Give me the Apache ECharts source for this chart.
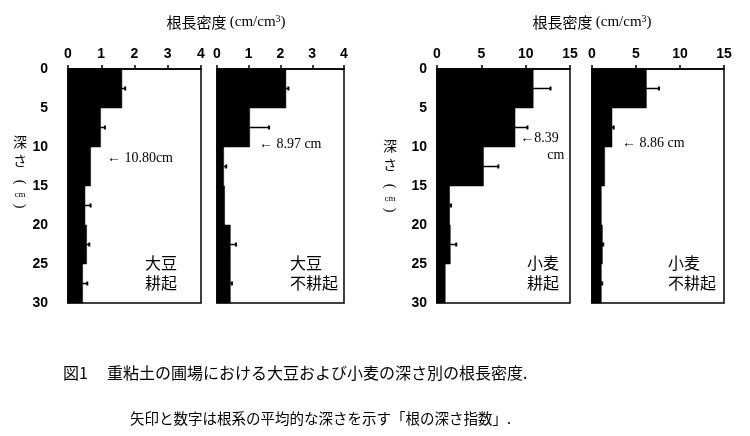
<!DOCTYPE html>
<html lang="ja">
<head>
    <meta charset="UTF-8">
    <title>根長密度</title>
    <script src="https://cdn.jsdelivr.net/npm/echarts@6/dist/echarts.min.js"></script>
</head>
<body style="margin:0;background:#fff;">
    <div id="img" style="height: 436px; width: 750px;"></div>
    <script type="text/javascript">
      // 深さ（cm）: 各層の上端、層の厚さは5cm
      var depthTop = [0, 5, 10, 15, 20, 25];
      var layerThick = 5;
      var depthTicks = [0, 30, 5];          // min, max, interval

      // 根長密度 (cm/cm3) の平均値と誤差（SD）
      var soyTillMean = [1.62, 0.98, 0.68, 0.51, 0.56, 0.44];
      var soyTillErr = [0.10, 0.13, 0, 0.17, 0.08, 0.14];
      var soyNoTillMean = [2.17, 1.03, 0.21, 0.24, 0.42, 0.42];
      var soyNoTillErr = [0.08, 0.61, 0.08, 0, 0.18, 0.05];
      var wheatTillMean = [10.85, 8.80, 5.24, 1.42, 1.50, 0.93];
      var wheatTillErr = [1.95, 1.40, 1.68, 0.15, 0.67, 0];
      var wheatNoTillMean = [6.18, 2.27, 1.44, 1.06, 1.18, 1.06];
      var wheatNoTillErr = [1.43, 0.20, 0, 0, 0.10, 0.10];

      // 根の深さ指数 (cm)
      var depthIndex = [10.80, 8.97, 8.39, 8.86];

      var soyTicks = [0, 4, 1];
      var wheatTicks = [0, 15, 5];

      var panelNames = ['大豆\n耕起', '大豆\n不耕起', '小麦\n耕起', '小麦\n不耕起'];

      // 配置
      var panels = [
        {left: 68, width: 133, mean: soyTillMean, err: soyTillErr, ticks: soyTicks, yLabel: true, yMargin: 20, arrowX: 1.17, nameX: 145},
        {left: 217, width: 127, mean: soyNoTillMean, err: soyNoTillErr, ticks: soyTicks, yLabel: false, arrowX: 1.32, nameX: 290},
        {left: 437, width: 133, mean: wheatTillMean, err: wheatTillErr, ticks: wheatTicks, yLabel: true, yMargin: 10, arrowX: 9.4, nameX: 527, split: true},
        {left: 592, width: 132, mean: wheatNoTillMean, err: wheatNoTillErr, ticks: wheatTicks, yLabel: false, arrowX: 3.4, nameX: 668}
      ];
      var gridTop = 69, gridH = 234;

      var labelFont = {fontFamily: 'Liberation Sans', fontWeight: 'bold', fontSize: 14, color: '#000'};
      var serif = 'Liberation Serif, DejaVu Serif';
      var jp = 'Noto Sans CJK JP';

      var grid = [], xAxis = [], yAxis = [], series = [], graphic = [];

      panels.forEach(function (p, i) {
        grid.push({left: p.left, top: gridTop, width: p.width, height: gridH,
          show: true, borderColor: '#000', borderWidth: 1.5, backgroundColor: '#fff'});
        xAxis.push({
          gridIndex: i, type: 'value', position: 'top',
          min: p.ticks[0], max: p.ticks[1], interval: p.ticks[2],
          axisLine: {show: true, lineStyle: {color: '#000', width: 1.5}},
          axisTick: {show: true, length: 4, lineStyle: {color: '#000', width: 1.5}},
          axisLabel: Object.assign({margin: 8}, labelFont),
          splitLine: {show: false}
        });
        yAxis.push({
          gridIndex: i, type: 'value', inverse: true,
          min: depthTicks[0], max: depthTicks[1], interval: depthTicks[2],
          axisLine: {show: true, lineStyle: {color: '#000', width: 1.5}},
          axisTick: {show: false},
          axisLabel: Object.assign({show: p.yLabel, margin: p.yMargin || 8}, labelFont),
          splitLine: {show: false}
        });

        var barData = depthTop.map(function (d, k) { return [p.mean[k], d, d + layerThick]; });
        series.push({
          type: 'custom', xAxisIndex: i, yAxisIndex: i, silent: true,
          data: barData,
          renderItem: function (params, api) {
            var a = api.coord([0, api.value(1)]);
            var b = api.coord([api.value(0), api.value(2)]);
            return {type: 'rect', shape: {x: a[0], y: a[1], width: b[0] - a[0], height: b[1] - a[1]},
              style: {fill: '#000', stroke: '#000', lineWidth: 0.5}};
          }
        });

        var errData = depthTop.map(function (d, k) { return [p.mean[k], p.err[k], d + layerThick / 2]; });
        series.push({
          type: 'custom', xAxisIndex: i, yAxisIndex: i, silent: true,
          data: errData,
          renderItem: function (params, api) {
            var e = api.value(1);
            if (!e) return null;
            var a = api.coord([api.value(0), api.value(2)]);
            var b = api.coord([api.value(0) + e, api.value(2)]);
            return {type: 'group', children: [
              {type: 'line', shape: {x1: a[0], y1: a[1], x2: b[0], y2: b[1]}, style: {stroke: '#000', lineWidth: 1.5}},
              {type: 'line', shape: {x1: b[0], y1: b[1] - 2, x2: b[0], y2: b[1] + 2}, style: {stroke: '#000', lineWidth: 2}}
            ]};
          }
        });

        // 根の深さ指数の矢印
        series.push({
          type: 'custom', xAxisIndex: i, yAxisIndex: i, silent: true,
          data: [[p.arrowX, depthIndex[i]]],
          renderItem: function (params, api) {
            var c = api.coord([api.value(0), api.value(1)]);
            var v = api.value(1).toFixed(2);
            var txtStyle = {fill: '#000', font: '14px ' + serif, verticalAlign: 'middle', align: 'left'};
            if (p.split) {
              return {type: 'group', children: [
                {type: 'text', x: c[0], y: c[1] + 4, style: Object.assign({text: '\u2190' + v}, txtStyle)},
                {type: 'text', x: c[0] + 44, y: c[1] + 21, style: Object.assign({}, txtStyle, {text: 'cm', align: 'right'})}
              ]};
            }
            var t = i === 0 ? '\u2190 ' + v + 'cm' : '\u2190 ' + v + ' cm';
            return {type: 'text', x: c[0], y: c[1] + 5, style: Object.assign({text: t}, txtStyle)};
          }
        });

        graphic.push({type: 'text', left: p.nameX, top: 253, z: 10,
          style: {text: panelNames[i], font: '16px ' + jp, fill: '#000', lineHeight: 20}});
      });

      // 軸タイトル
      [226, 592].forEach(function (cx) {
        graphic.push({type: 'text', x: cx, y: 22,
          style: {text: '{j|根長密度} {s|(cm/cm}{p|3}{s|)}', align: 'center', verticalAlign: 'middle',
            rich: {j: {fontFamily: jp, fontSize: 15, fill: '#000'},
                   s: {fontFamily: serif, fontSize: 15, fill: '#000'},
                   p: {fontFamily: serif, fontSize: 10, fill: '#000', verticalAlign: 'top', padding: [0, 0, 6, 0]}}}});
      });
      // 縦書きの「深さ（cm）」
      [[20, 0], [390, 4]].forEach(function (v) {
        var x = v[0], dy = v[1];
        var st = function (t, f) { return {text: t, font: f, fill: '#000', align: 'center', verticalAlign: 'middle'}; };
        graphic.push({type: 'text', x: x, y: 142 + dy, style: st('深', '14px ' + jp)});
        graphic.push({type: 'text', x: x, y: 161 + dy, style: st('さ', '14px ' + jp)});
        graphic.push({type: 'text', x: x, y: 182 + dy, rotation: -Math.PI / 2, style: st('(', '14px ' + serif)});
        graphic.push({type: 'text', x: x, y: 195 + dy, style: st('cm', '9px ' + serif)});
        graphic.push({type: 'text', x: x, y: 206 + dy, rotation: -Math.PI / 2, style: st(')', '14px ' + serif)});
      });

      // 図の説明
      graphic.push({type: 'text', x: 63, y: 373, style: {text: '図1', font: '16px ' + jp, fill: '#000', verticalAlign: 'middle'}});
      graphic.push({type: 'text', x: 107, y: 373, style: {text: '重粘土の圃場における大豆および小麦の深さ別の根長密度.', font: '16px ' + jp, fill: '#000', verticalAlign: 'middle'}});
      graphic.push({type: 'text', x: 130, y: 418, style: {text: '矢印と数字は根系の平均的な深さを示す「根の深さ指数」.', font: '14.5px ' + jp, fill: '#000', verticalAlign: 'middle'}});

      var myChart = echarts.init(document.getElementById('img'));
      myChart.setOption({
        animation: false,
        backgroundColor: '#fff',
        grid: grid,
        xAxis: xAxis,
        yAxis: yAxis,
        series: series,
        graphic: graphic
      });
    </script>
</body>
</html>
